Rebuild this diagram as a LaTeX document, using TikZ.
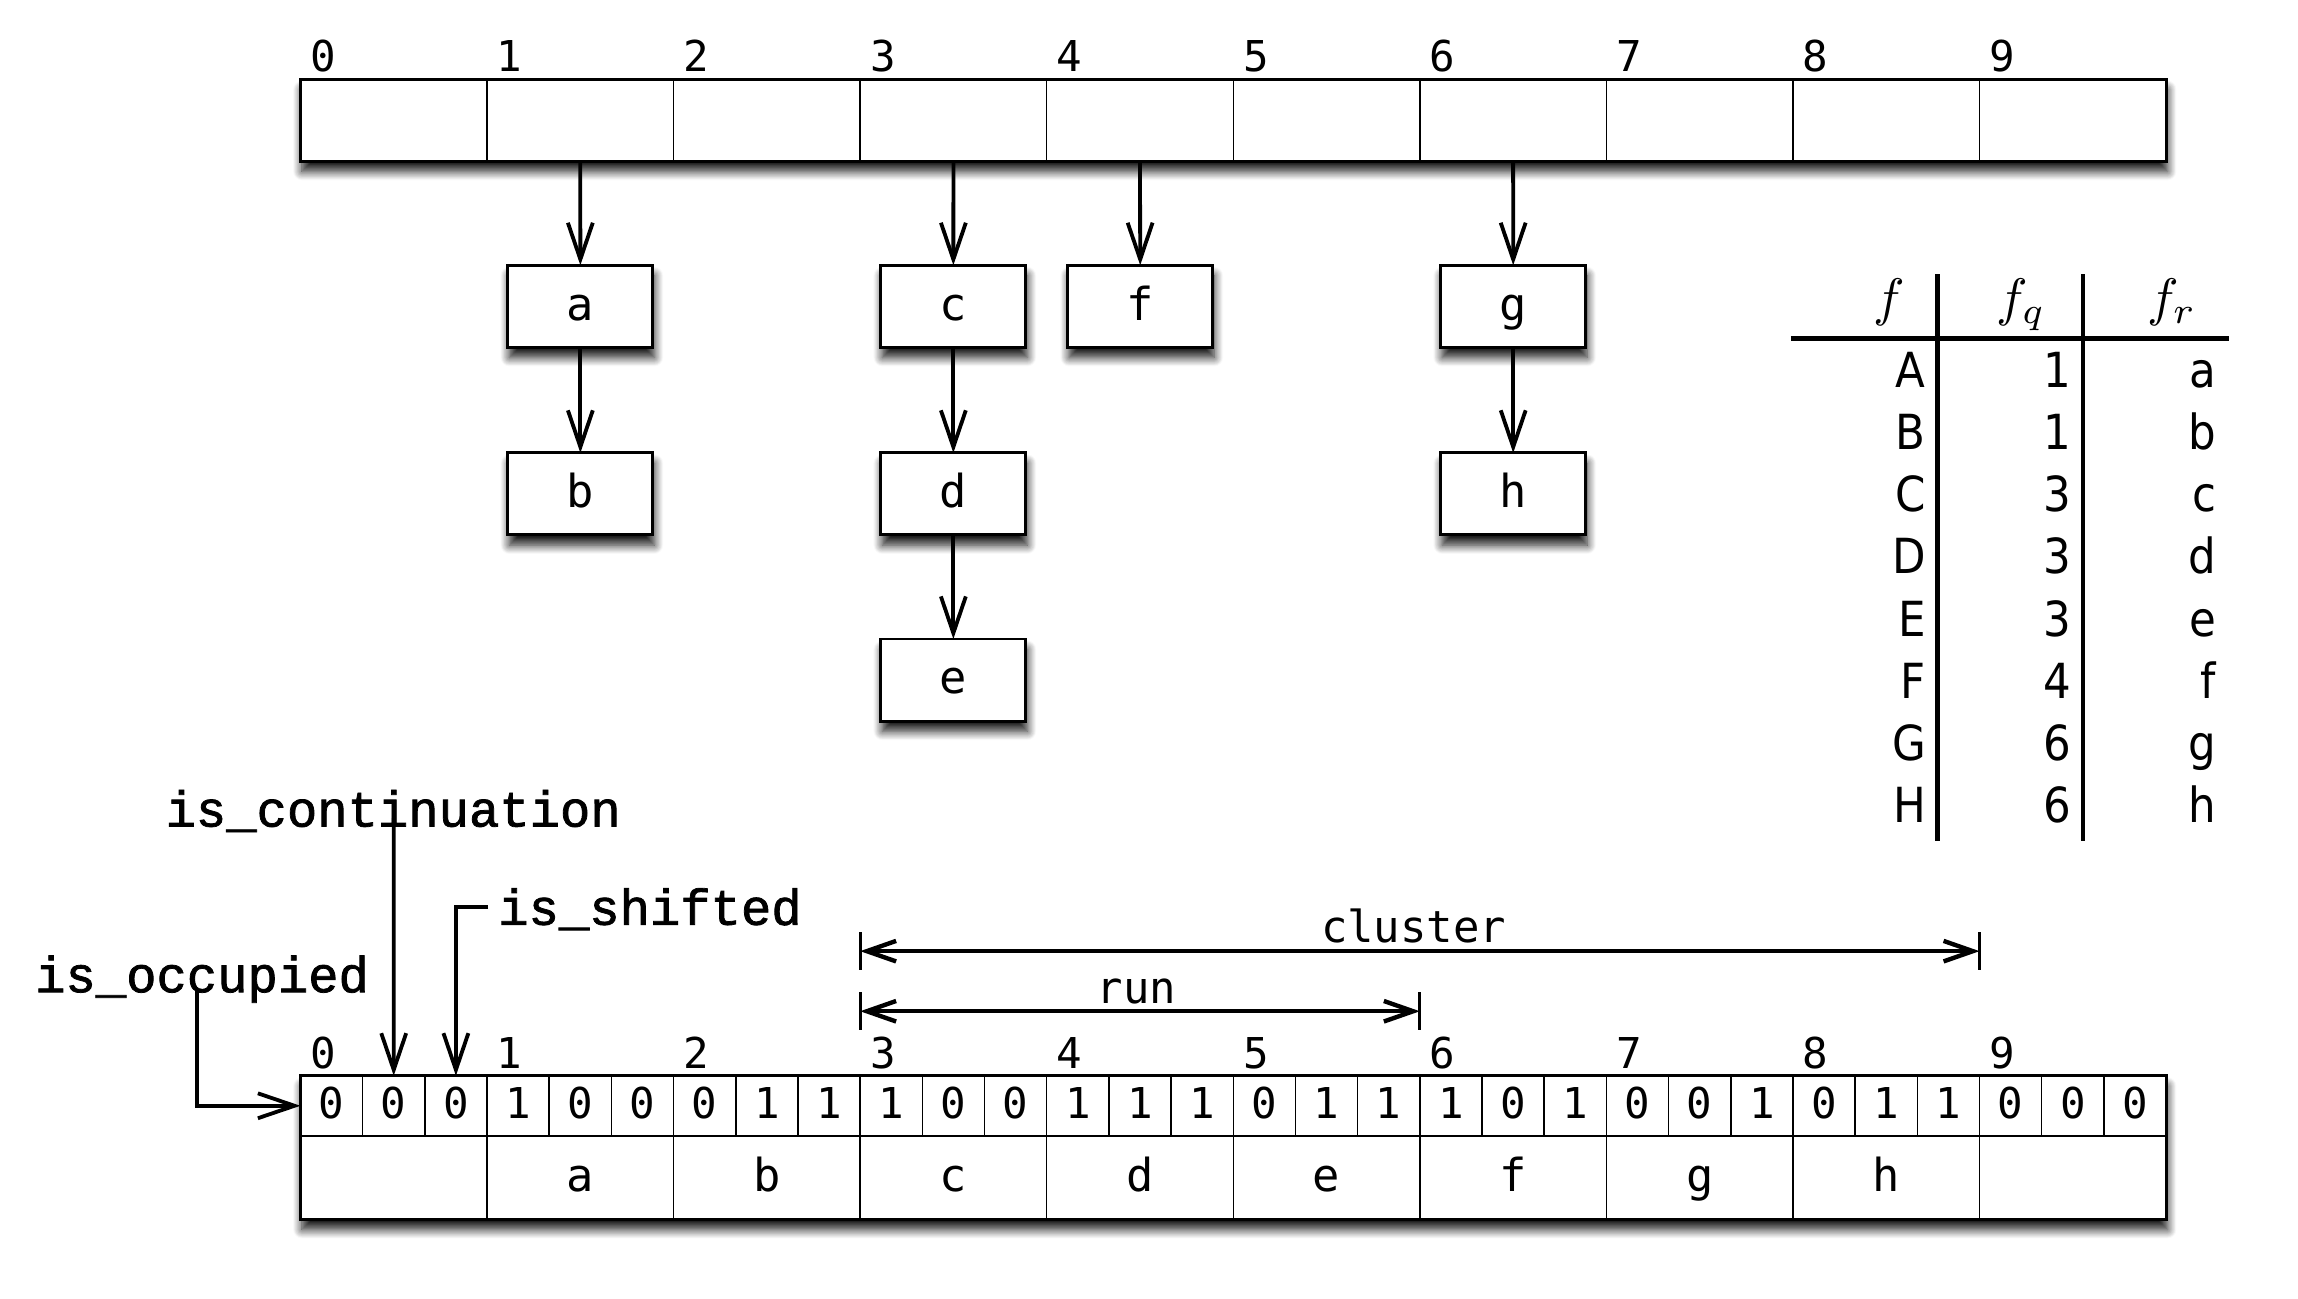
\documentclass[tikz,border=0pt]{standalone}
\usepackage{fontspec}
\setmainfont{DejaVu Sans}
\newfontfamily\monof{DejaVu Sans Mono}
\newfontfamily\codef{Liberation Mono}[FakeBold=1.5]
\newfontfamily\tabf{DejaVu Sans}[FakeStretch=0.9]
\usetikzlibrary{arrows.meta,shadows.blur}
\newcommand\fsz[1]{\fontsize{#1}{#1}\selectfont}
\begin{document}
\begin{tikzpicture}[x=1pt,y=-1pt,
  every node/.style={inner sep=0pt,outer sep=0pt},
  shad/.style={blur shadow={shadow xshift=1pt,shadow yshift=-7pt,shadow blur radius=6pt,shadow blur steps=10,shadow opacity=90}},
  frame/.style={draw,line width=2pt,fill=white},
  thinline/.style={line width=1pt},
  cellnode/.style={minimum width=127.3pt,minimum height=56pt},
  idx/.style={font=\monof\fsz{29},anchor=base},
  box/.style={frame,shad,minimum width=99pt,minimum height=56pt,font=\monof\fsz{31},text height=19pt,text depth=0pt},
  arr/.style={line width=2.6pt,-{Straight Barb[length=25pt,width=17pt]}},
  tabline/.style={line width=2.8pt},
  tab/.style={font=\tabf\fsz{33},anchor=base east},
  hdr/.style={scale=3.6,anchor=base},
  bitnode/.style={minimum width=42.433pt,minimum height=41pt,font=\monof\fsz{29},text height=18pt,text depth=0pt},
  slotlab/.style={minimum width=127.3pt,minimum height=57pt,font=\monof\fsz{31},text height=19pt,text depth=0pt},
  lab/.style={font=\monof\fsz{30},anchor=base},
  code/.style={font=\codef\fsz{34.5},anchor=base west},
  dim/.style={line width=3pt,{Straight Barb[length=20pt,width=14pt]}-{Straight Barb[length=20pt,width=14pt]}},
  tick/.style={line width=2.2pt}]
\useasboundingbox (0,0) rectangle (1568,885.7);

% ---------- top hash table ----------
\node[frame,shad,minimum width=1273pt,minimum height=56pt,anchor=north west] (toparr) at (205,54) {};
\foreach \i in {0,...,9} \node[cellnode] (t\i) at ({205+127.3*(\i+0.5)},82) {};
\foreach \i in {1,...,9} \draw[thinline] (t\i.north west) -- (t\i.south west);
\foreach \i in {0,...,9} \node[idx] (ti\i) at ({205+127.3*\i+15.5},49) {\i};

% ---------- chained elements ----------
\node[box] (a) at (396,209) {a};
\node[box] (b) at (396,337) {b};
\node[box] (c) at (650.5,209) {c};
\node[box] (d) at (650.5,337) {d};
\node[box] (e) at (650.5,464) {e};
\node[box] (f) at (778,209) {f};
\node[box] (g) at (1032.5,209) {g};
\node[box] (h) at (1032.5,337) {h};
\draw[arr] (t1.south) -- (a.north);
\draw[arr] (a.south) -- (b.north);
\draw[arr] (t3.south) -- (c.north);
\draw[arr] (c.south) -- (d.north);
\draw[arr] (d.south) -- (e.north);
\draw[arr] (t4.south) -- (f.north);
\draw[arr] (t6.south) -- (g.north);
\draw[arr] (g.south) -- (h.north);

% ---------- table ----------
\coordinate (v1t) at (1322,187); \coordinate (v1b) at (1322,574);
\coordinate (v2t) at (1421,187); \coordinate (v2b) at (1421,574);
\coordinate (hl) at (1222,231); \coordinate (hr) at (1521,231);
\draw[tabline] (v1t) -- (v1b);
\draw[tabline] (v2t) -- (v2b);
\draw[tabline] (hl) -- (hr);
\node[hdr] (hf) at (1289,215) {$f$};
\node[hdr] (hfq) at (1379,215) {$f_q$};
\node[hdr] (hfr) at (1482,215) {$f_r$};
\foreach \A/\n/\l [count=\k from 0] in {A/1/a,B/1/b,C/3/c,D/3/d,E/3/e,F/4/f,G/6/g,H/6/h}{
  \node[tab] (ra\k) at (1314,{264.4+42.4*\k}) {\A};
  \node[tab] (rb\k) at (1413,{264.4+42.4*\k}) {\n};
  \node[tab] (rc\k) at (1512,{264.4+42.4*\k}) {\l};
}

% ---------- quotient filter ----------
\node[frame,shad,minimum width=1273pt,minimum height=98pt,anchor=north west] (botarr) at (205,734) {};
\draw[line width=1.5pt] (205,775) -- (1478,775);
\foreach \b [count=\i from 0] in {0,0,0,1,0,0,0,1,1,1,0,0,1,1,1,0,1,1,1,0,1,0,0,1,0,1,1,0,0,0}
  \node[bitnode] (b\i) at ({205+42.433*(\i+0.5)},754.5) {\b};
\foreach \i in {1,...,29} \draw[thinline] (b\i.north west) -- (b\i.south west);
\foreach \i in {1,...,9} \draw[thinline] ({205+127.3*\i},775) -- ({205+127.3*\i},832);
\foreach \l [count=\i from 1] in {a,b,c,d,e,f,g,h}
  \node[slotlab] (s\i) at ({205+127.3*(\i+0.5)},803.5) {\l};
\foreach \i in {0,...,9} \node[idx] (bi\i) at ({205+127.3*\i+15.5},729) {\i};

% ---------- cluster / run ----------
\coordinate (cl1) at (586.9,649); \coordinate (cl2) at (1350.7,649);
\draw[dim] (cl1) -- (cl2);
\draw[tick] ([yshift=13pt]cl1) -- ([yshift=-13pt]cl1);
\draw[tick] ([yshift=13pt]cl2) -- ([yshift=-13pt]cl2);
\node[lab] (clusterlab) at (964.6,643) {cluster};
\coordinate (rn1) at (586.9,690); \coordinate (rn2) at (968.8,690);
\draw[dim] (rn1) -- (rn2);
\draw[tick] ([yshift=13pt]rn1) -- ([yshift=-13pt]rn1);
\draw[tick] ([yshift=13pt]rn2) -- ([yshift=-13pt]rn2);
\node[lab] (runlab) at (775.5,685) {run};

% ---------- bit labels ----------
\node[code] (cont) at (113,564) {is\_continuation};
\node[code] (shft) at (340,631) {is\_shifted};
\node[code] (occ) at (24,677) {is\_occupied};
\coordinate (contA) at (268.6,558);
\coordinate (shA) at (333,619);
\coordinate (occA) at (134.5,675);
\draw[arr] (contA) -- (b1.north);
\draw[arr] (shA) -| (b2.north);
\draw[arr] (occA) |- (b0.west);
\end{tikzpicture}
\end{document}
